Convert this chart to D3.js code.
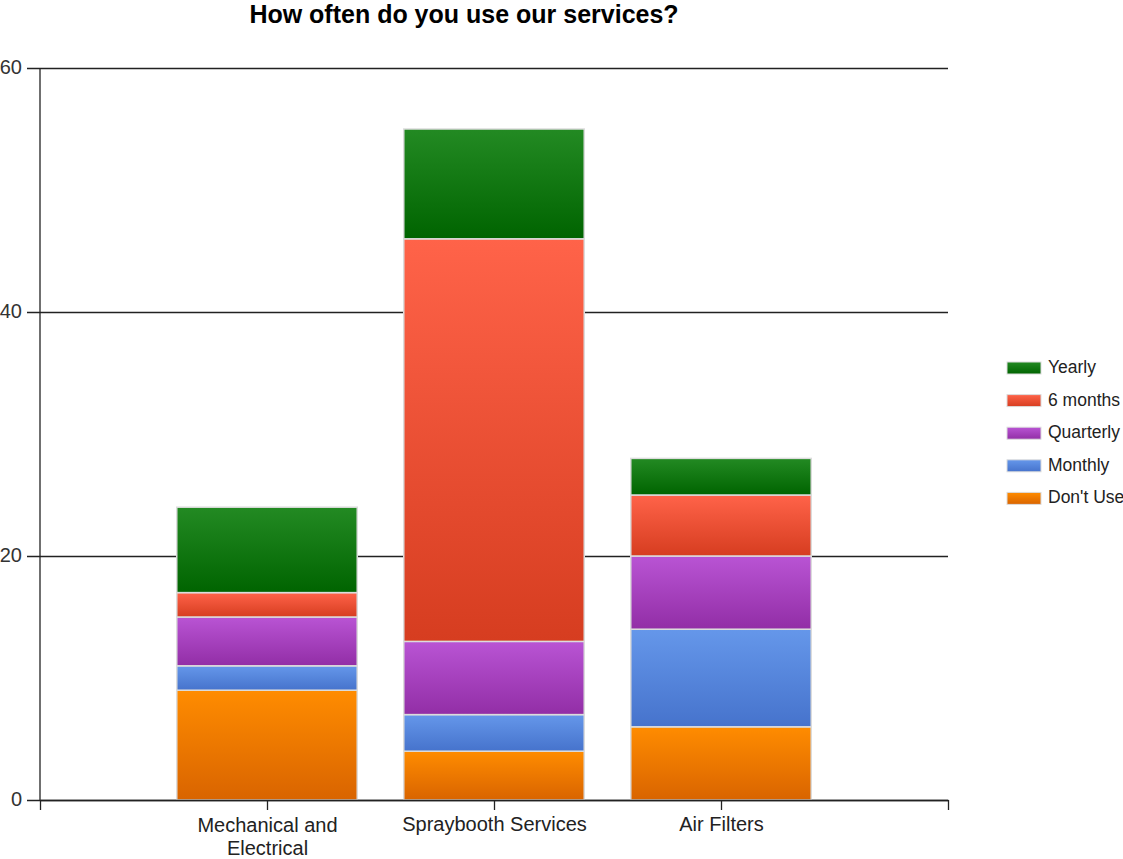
<!DOCTYPE html>
<html>
<head>
<meta charset="utf-8">
<script src="https://cdn.jsdelivr.net/npm/d3@7"></script>
<style>
  html, body { margin: 0; padding: 0; background: #fff; }
  svg { display: block; font-family: "Liberation Sans", Arial, sans-serif; }
</style>
</head>
<body>
<svg id="chart" width="1123" height="859"></svg>
<script>
// Survey responses per service
const categories = ["Mechanical and Electrical", "Spraybooth Services", "Air Filters"];
const series = ["Don't Use", "Monthly", "Quarterly", "6 months", "Yearly"];
const dontUse   = [9, 4, 6];
const monthly   = [2, 3, 8];
const quarterly = [4, 6, 6];
const sixMonths = [2, 33, 5];
const yearly    = [7, 9, 3];
const yTicks = [0, 20, 40, 60];

const seriesValues = [dontUse, monthly, quarterly, sixMonths, yearly];
// gradient stops (top, bottom) per series
const palette = {
  "Don't Use": ["#ff8c00", "#d96400"],
  "Monthly":   ["#6597ea", "#4673cc"],
  "Quarterly": ["#b954d4", "#922ea6"],
  "6 months":  ["#ff6349", "#d63d20"],
  "Yearly":    ["#238a23", "#006400"]
};

const rows = categories.map((c, i) => {
  const r = { category: c };
  series.forEach((s, k) => r[s] = seriesValues[k][i]);
  return r;
});
const stacked = d3.stack().keys(series)(rows);

const svg = d3.select("#chart");
const margin = { left: 40, right: 948, top: 68, bottom: 800 };

// slots 0..4 with categories centred at 1, 2, 3
const x = d3.scaleLinear().domain([0, categories.length + 1]).range([margin.left, margin.right]);
const y = d3.scaleLinear().domain([0, 60]).range([margin.bottom, margin.top]);
const barWidth = (x(1) - x(0)) * 0.795;

const defs = svg.append("defs");
series.forEach((s, k) => {
  const g = defs.append("linearGradient")
    .attr("id", "grad" + k).attr("x1", 0).attr("y1", 0).attr("x2", 0).attr("y2", 1);
  g.append("stop").attr("offset", "0%").attr("stop-color", palette[s][0]);
  g.append("stop").attr("offset", "100%").attr("stop-color", palette[s][1]);
});

// title
svg.append("text")
  .attr("x", 464).attr("y", 23)
  .attr("text-anchor", "middle")
  .attr("font-size", 25).attr("font-weight", "bold").attr("fill", "#000")
  .text("How often do you use our services?");

// horizontal grid lines with left ticks
const yAxis = d3.axisLeft(y).tickValues(yTicks)
  .tickSize(-(margin.right - margin.left)).tickSizeOuter(0)
  .tickFormat(d3.format("d"));
const yG = svg.append("g").attr("transform", `translate(${margin.left},0)`).call(yAxis);
yG.select(".domain").remove();
yG.selectAll(".tick line").attr("stroke", "#222").attr("stroke-width", 1.3)
  .attr("x1", -13);
yG.selectAll(".tick text").attr("font-size", 20).attr("fill", "#333")
  .attr("x", -18).attr("dy", "0.25em")
  .attr("font-family", "Liberation Sans, Arial, sans-serif");

// bars
const layers = svg.append("g").selectAll("g").data(stacked).join("g")
  .attr("fill", (d, k) => `url(#grad${k})`);
layers.selectAll("rect").data(d => d).join("rect")
  .attr("x", (d, i) => x(i + 1) - barWidth / 2)
  .attr("width", barWidth)
  .attr("y", d => y(d[1]))
  .attr("height", d => y(d[0]) - y(d[1]))
  .attr("stroke", "#dcdcdc").attr("stroke-width", 1.5);

// y axis line
svg.append("line")
  .attr("x1", margin.left).attr("x2", margin.left)
  .attr("y1", y(60)).attr("y2", y(0))
  .attr("stroke", "#222").attr("stroke-width", 1.3);

// x axis with category ticks
const xAxis = d3.axisBottom(x)
  .tickValues([0, 1, 2, 3, 4])
  .tickSize(10).tickSizeOuter(0)
  .tickFormat(d => (d >= 1 && d <= categories.length) ? categories[d - 1] : "");
const xG = svg.append("g").attr("transform", `translate(0,${margin.bottom})`).call(xAxis);
xG.select(".domain").attr("stroke", "#222").attr("stroke-width", 1.3);
xG.selectAll(".tick line").attr("stroke", "#222").attr("stroke-width", 1.3);
xG.selectAll(".tick text")
  .attr("font-size", 20).attr("fill", "#222")
  .attr("font-family", "Liberation Sans, Arial, sans-serif")
  .attr("dy", null)
  .each(function(d) {
    const t = d3.select(this);
    const label = t.text();
    if (label === "Mechanical and Electrical") {
      t.text(null).attr("y", null);
      t.append("tspan").attr("x", 0).attr("y", 32).text("Mechanical and");
      t.append("tspan").attr("x", 0).attr("y", 55).text("Electrical");
    } else {
      t.attr("y", 31);
    }
  });

// legend (top to bottom: Yearly ... Don't Use)
const legendItems = series.slice().reverse();
const legend = svg.append("g").attr("transform", "translate(1007,362)");
legendItems.forEach((s, i) => {
  const k = series.indexOf(s);
  const g = legend.append("g").attr("transform", `translate(0,${i * 32.6})`);
  g.append("rect").attr("x", 0).attr("y", 0).attr("width", 34).attr("height", 12)
    .attr("fill", `url(#grad${k})`).attr("stroke", "#dcdcdc").attr("stroke-width", 1);
  g.append("text").attr("x", 41).attr("y", 11)
    .attr("font-size", 17.5).attr("fill", "#222").text(s);
});
</script>
</body>
</html>
